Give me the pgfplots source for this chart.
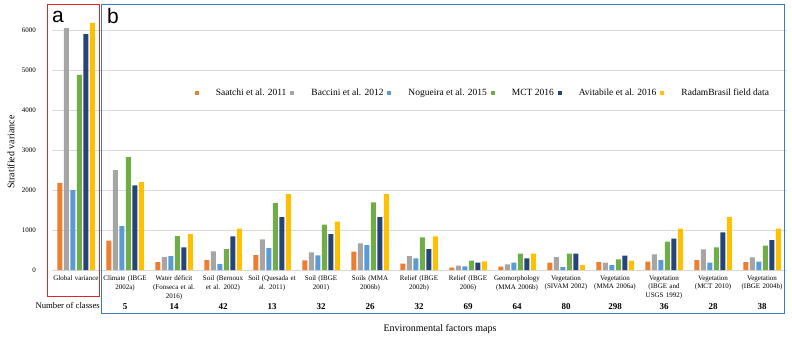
\documentclass[border=0pt]{standalone}
\usepackage{pgfplots}
\pgfplotsset{compat=1.18}
\usepackage{fontspec}
\setmainfont{Liberation Serif}
\newfontfamily\arial{Liberation Sans}
\definecolor{cOr}{HTML}{ED7D31}
\definecolor{cGr}{HTML}{A5A5A5}
\definecolor{cBl}{HTML}{5B9BD5}
\definecolor{cGn}{HTML}{70AD47}
\definecolor{cNv}{HTML}{264478}
\definecolor{cYe}{HTML}{FFC000}
\definecolor{boxred}{HTML}{E0262B}
\definecolor{boxblue}{HTML}{3A7CC0}
\pgfplotsset{sqleg/.style={legend image code/.code={\fill[##1,draw=none] (0pt,-2pt) rectangle (4pt,2pt);}}}
\tikzset{ncl/.style={anchor=base, font=\fontsize{9}{10}\selectfont\bfseries, inner sep=0pt, yshift=-39pt}}
\begin{document}
\begin{tikzpicture}[x=1pt,y=1pt]
\useasboundingbox (0,0) rectangle (792,340);
\begin{axis}[
  at={(51.5pt,70pt)}, anchor=south west,
  scale only axis, width=735pt, height=260pt,
  xmin=-0.5, xmax=14.5, ymin=0, ymax=6500,
  ybar=1.5pt, bar width=5pt,
  axis line style={draw=none}, major tick length=0pt,
  ytick={0,1000,2000,3000,4000,5000,6000},
  ymajorgrids, grid style={draw=black!15, line width=0.8pt},
  xtick={0,1,...,14},
  xticklabels={{Global variance},{Climate (IBGE\\2002a)},{Water déficit\\(Fonseca et al.\\2016)},{Soil (Bernoux\\et al. 2002)},{Soil (Quesada et\\al. 2011)},{Soil (IBGE\\2001)},{Soils (MMA\\2006b)},{Relief (IBGE\\2002b)},{Relief (IBGE\\2006)},{Geomorphology\\(MMA 2006b)},{Vegetation\\(SIVAM 2002)},{Vegetation\\(MMA 2006a)},{Vegetation\\(IBGE and\\USGS 1992)},{Vegetation\\(MCT 2010)},{Vegetation\\(IBGE 2004b)}},
  xticklabel style={font=\fontsize{7}{8.8}\selectfont, align=center, text width=60pt, anchor=north, yshift=-2pt},
  yticklabel style={font=\fontsize{7}{8}\selectfont, xshift=-12pt},
  /pgf/number format/assume math mode=true,
  /pgf/number format/1000 sep={},
  clip=false,
  legend columns=6,
  legend style={at={(0.587,0.681)}, anchor=center, draw=none, fill=none,
    font=\fontsize{9.5}{11}\selectfont,
    /tikz/every even column/.append style={column sep=2pt},
    /tikz/every odd column/.append style={column sep=15pt}},
]
\addplot[fill=cOr, draw=none, sqleg] coordinates {(0,2180) (1,733) (2,200) (3,250) (4,375) (5,242) (6,458) (7,158) (8,58) (9,83) (10,183) (11,200) (12,208) (13,250) (14,200)};
\addplot[fill=cGr, draw=none, sqleg] coordinates {(0,6050) (1,2500) (2,325) (3,467) (4,767) (5,442) (6,667) (7,350) (8,108) (9,142) (10,325) (11,183) (12,392) (13,517) (14,317)};
\addplot[fill=cBl, draw=none, sqleg] coordinates {(0,2000) (1,1100) (2,350) (3,150) (4,550) (5,367) (6,625) (7,292) (8,92) (9,183) (10,75) (11,125) (12,250) (13,183) (14,208)};
\addplot[fill=cGn, draw=none, sqleg] coordinates {(0,4880) (1,2825) (2,850) (3,525) (4,1675) (5,1133) (6,1692) (7,817) (8,233) (9,408) (10,408) (11,267) (12,708) (13,567) (14,608)};
\addplot[fill=cNv, draw=none, sqleg] coordinates {(0,5900) (1,2117) (2,567) (3,842) (4,1325) (5,900) (6,1325) (7,525) (8,183) (9,292) (10,408) (11,358) (12,783) (13,942) (14,750)};
\addplot[fill=cYe, draw=none, sqleg] coordinates {(0,6180) (1,2200) (2,900) (3,1033) (4,1900) (5,1208) (6,1900) (7,842) (8,217) (9,408) (10,125) (11,233) (12,1033) (13,1325) (14,1033)};
\legend{Saatchi et al. 2011, Baccini et al. 2012, Nogueira et al. 2015, MCT 2016, Avitabile et al. 2016, RadamBrasil field data}
\node[ncl] at (axis cs:1,0) {5};
\node[ncl] at (axis cs:2,0) {14};
\node[ncl] at (axis cs:3,0) {42};
\node[ncl] at (axis cs:4,0) {13};
\node[ncl] at (axis cs:5,0) {32};
\node[ncl] at (axis cs:6,0) {26};
\node[ncl] at (axis cs:7,0) {32};
\node[ncl] at (axis cs:8,0) {69};
\node[ncl] at (axis cs:9,0) {64};
\node[ncl] at (axis cs:10,0) {80};
\node[ncl] at (axis cs:11,0) {298};
\node[ncl] at (axis cs:12,0) {36};
\node[ncl] at (axis cs:13,0) {28};
\node[ncl] at (axis cs:14,0) {38};
\end{axis}
\draw[boxred, line width=1pt] (47.7,335) rectangle (99,44);
\draw[boxblue, line width=1pt] (101.7,335) rectangle (784,27);
\node[anchor=base west, inner sep=0pt, font=\arial\fontsize{21}{21}\selectfont] at (52,317) {a};
\node[anchor=base west, inner sep=0pt, font=\arial\fontsize{21}{21}\selectfont] at (107,316) {b};
\node[anchor=base east, inner sep=0pt, font=\fontsize{8.7}{10}\selectfont] at (100,31) {Number of classes};
\node[anchor=base, inner sep=0pt, font=\fontsize{10}{12}\selectfont] at (440,9) {Environmental factors maps};
\node[rotate=90, inner sep=0pt, font=\fontsize{10}{12}\selectfont] at (11,188) {Stratified variance};
\end{tikzpicture}
\end{document}
